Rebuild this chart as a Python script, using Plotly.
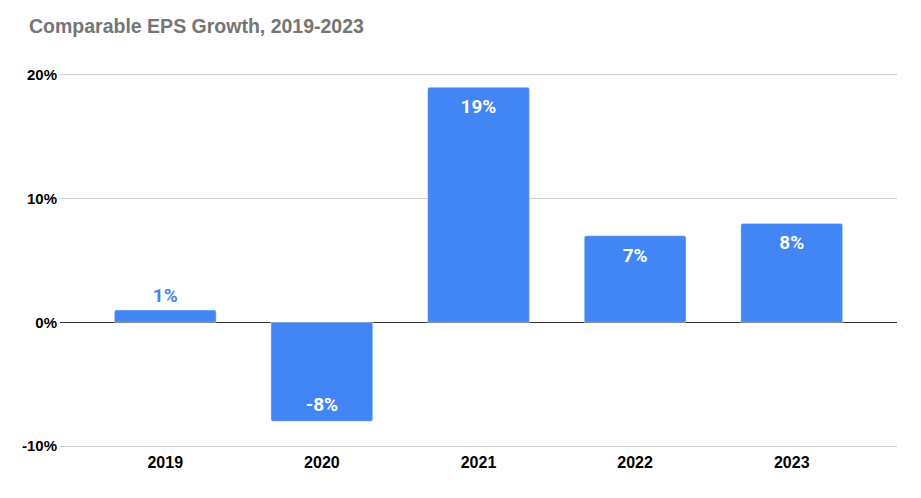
import plotly.graph_objects as go

years = ["2019", "2020", "2021", "2022", "2023"]
growth = [1, -8, 19, 7, 8]
labels = ["1%", "-8%", "19%", "7%", "8%"]
tick_vals = [-10, 0, 10, 20]
tick_text = ["-10%", "0%", "10%", "20%"]

BLUE = "#4285F4"
FONT = "Liberation Sans, Arial"

HEIGHT, TOP, BOTTOM = 498, 64, 57
Y_RANGE = [-10.24, 20.24]
px_per_unit = (HEIGHT - TOP - BOTTOM) / (Y_RANGE[1] - Y_RANGE[0])

fig = go.Figure()
fig.add_trace(go.Bar(
    x=years, y=growth,
    marker=dict(color=BLUE, cornerradius=2),
    width=0.65,
    hoverinfo="skip",
))

# label placement: inside near bar end, or above bars too short to hold it
label_y, label_col = [], []
for v in growth:
    if abs(v) < 3:
        label_y.append(v + 13 / px_per_unit); label_col.append(BLUE)
    elif v >= 0:
        label_y.append(v - 21 / px_per_unit); label_col.append("white")
    else:
        label_y.append(v + 15 / px_per_unit); label_col.append("white")

fig.add_trace(go.Scatter(
    x=years, y=label_y, mode="text", text=labels,
    textposition="middle center",
    textfont=dict(family="Roboto", size=19, color=label_col, weight="bold"),
    hoverinfo="skip", cliponaxis=False,
))

fig.update_layout(
    width=921, height=HEIGHT,
    margin=dict(l=52, r=32, t=TOP, b=BOTTOM),
    paper_bgcolor="white", plot_bgcolor="white",
    title=dict(text="<b>Comparable EPS Growth, 2019-2023</b>",
               x=21 / 921, xref="container", xanchor="left",
               y=1 - 18 / 498, yref="container", yanchor="middle",
               font=dict(family=FONT, size=19.5, color="#757575")),
    font=dict(family=FONT, color="black"),
    showlegend=False,
)

fig.update_xaxes(
    type="category", range=[-0.672, 4.672],
    showgrid=False, showline=False, ticks="",
    tickfont=dict(family=FONT, size=16, color="black", weight="bold"),
    ticklabelstandoff=2,
)
fig.update_yaxes(
    range=Y_RANGE, tickvals=tick_vals, ticktext=tick_text,
    showgrid=True, gridcolor="#cccccc", gridwidth=1,
    zeroline=True, zerolinecolor="#333333", zerolinewidth=1,
    showline=False, ticks="",
    tickfont=dict(family=FONT, size=15, color="black", weight="bold"),
    ticklabelstandoff=2,
)

fig.write_html("out.html")
